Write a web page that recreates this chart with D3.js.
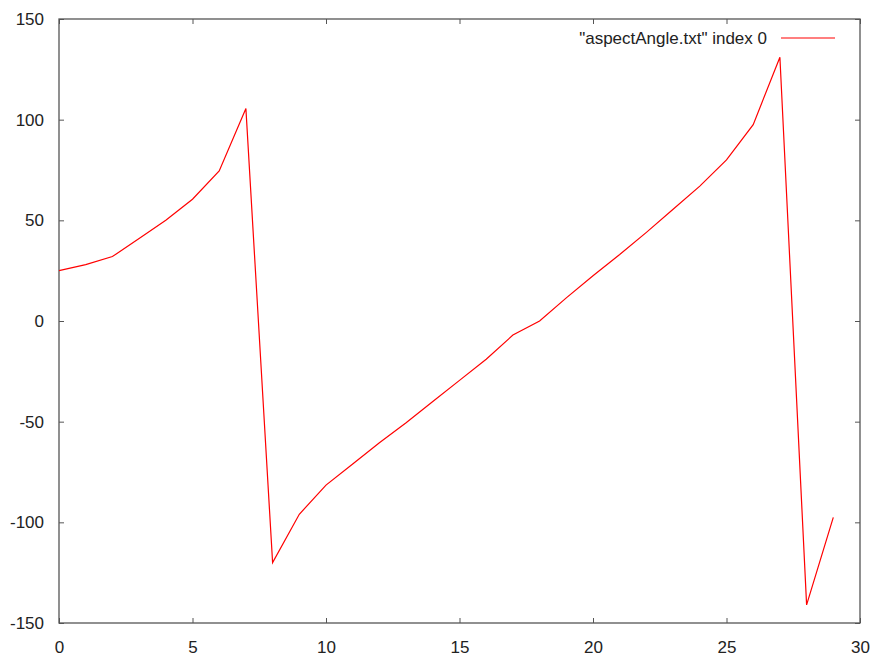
<!DOCTYPE html>
<html>
<head>
<meta charset="utf-8">
<script src="https://cdn.jsdelivr.net/npm/d3@7"></script>
<style>
  body { margin: 0; background: #ffffff; }
  svg text { font-family: "Liberation Sans", Arial, sans-serif; fill: #222222; }
</style>
</head>
<body>
<svg id="chart" width="874" height="663"></svg>
<script>
// data
const xIndex = d3.range(0, 30);
const aspectAngle = [
    25, 28, 32, 41, 50, 60.5, 74.5, 105.5, -120, -96,
    -81.5, -71, -60.5, -50.5, -40, -29.5, -19, -7, 0, 11.5,
    22.5, 33, 44, 55.5, 67, 80, 97.5, 131, -141, -97.5
];
const xTicks = [0, 5, 10, 15, 20, 25, 30];
const yTicks = [-150, -100, -50, 0, 50, 100, 150];
const seriesName = "\"aspectAngle.txt\" index 0";

const svg = d3.select("#chart"),
    margin = { top: 19, right: 14, bottom: 40, left: 59 },
    width = +svg.attr("width") - margin.left - margin.right,
    height = +svg.attr("height") - margin.top - margin.bottom;

const chart = svg.append("g")
    .attr("transform", `translate(${margin.left},${margin.top})`);

const x = d3.scaleLinear().domain([0, 30]).range([0, width]);
const y = d3.scaleLinear().domain([-150, 150]).range([height, 0]);

const axisColor = "#555555";
const tickLen = 5;
const plainFormat = d => String(d); // keep ascii hyphen for negatives

// inward ticks on all four sides, labels only on left/bottom
function styleAxis(g) {
    g.select(".domain").remove();
    g.selectAll(".tick line").attr("stroke", axisColor);
    g.selectAll(".tick text").style("font-size", "17px").attr("fill", "#222222");
}

chart.append("g")
    .attr("transform", `translate(0,${height})`)
    .call(d3.axisBottom(x).tickValues(xTicks).tickFormat(plainFormat)
        .tickSizeInner(-tickLen).tickSizeOuter(0).tickPadding(18))
    .call(styleAxis);

chart.append("g")
    .call(d3.axisTop(x).tickValues(xTicks).tickSizeInner(-tickLen).tickSizeOuter(0).tickFormat(""))
    .call(styleAxis);

chart.append("g")
    .call(d3.axisLeft(y).tickValues(yTicks).tickFormat(plainFormat)
        .tickSizeInner(-tickLen).tickSizeOuter(0).tickPadding(15))
    .call(styleAxis);

chart.append("g")
    .attr("transform", `translate(${width},0)`)
    .call(d3.axisRight(y).tickValues(yTicks).tickSizeInner(-tickLen).tickSizeOuter(0).tickFormat(""))
    .call(styleAxis);

// frame
chart.append("rect")
    .attr("width", width)
    .attr("height", height)
    .attr("fill", "none")
    .attr("stroke", axisColor)
    .attr("stroke-width", 1.3);

// series
const line = d3.line()
    .x((d, i) => x(xIndex[i]))
    .y(d => y(d));

chart.append("path")
    .datum(aspectAngle)
    .attr("fill", "none")
    .attr("stroke", "#ff0000")
    .attr("stroke-width", 1.2)
    .attr("d", line);

// legend
const legend = chart.append("g")
    .attr("transform", `translate(${width - 93}, 19)`);

legend.append("text")
    .attr("x", 0)
    .attr("y", 6)
    .attr("text-anchor", "end")
    .style("font-size", "17px")
    .text(seriesName);

legend.append("line")
    .attr("x1", 14)
    .attr("x2", 68)
    .attr("stroke", "#ff0000")
    .attr("stroke-width", 1.2);
</script>
</body>
</html>
